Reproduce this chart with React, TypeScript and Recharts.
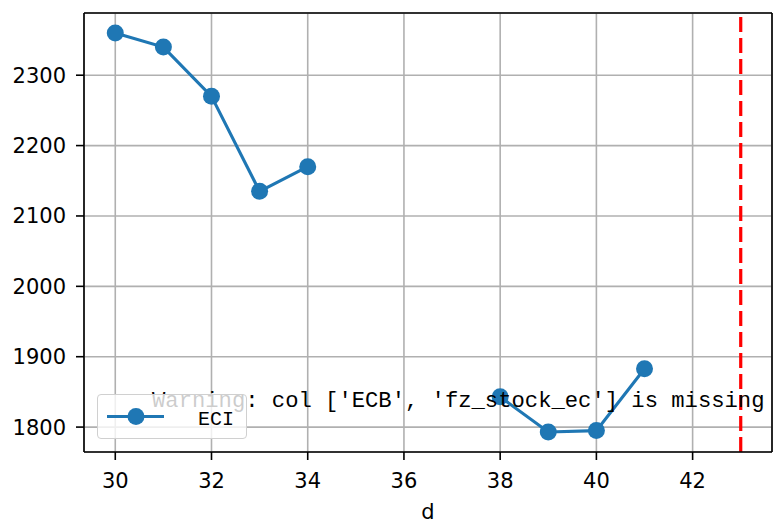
import {
  LineChart,
  Line,
  XAxis,
  YAxis,
  CartesianGrid,
  ReferenceLine,
  Legend,
} from 'recharts';

const days = [30, 31, 32, 33, 34, 35, 36, 37, 38, 39, 40, 41];
const eciValues: (number | null)[] = [2360, 2340, 2270, 2135, 2170, null, null, null, 1843, 1793, 1795, 1883];
const xTicks = [30, 32, 34, 36, 38, 40, 42];
const yTicks = [1800, 1900, 2000, 2100, 2200, 2300];
const xDomain: [number, number] = [29.35, 43.65];
const yDomain: [number, number] = [1764.6, 2388.4];
const cutoffDay = 43;
const warningText = "Warning: col ['ECB', 'fz_stock_ec'] is missing";

const data = days.map((d, i) => ({ d, ECI: eciValues[i] }));

const BLUE = '#1f77b4';
const tickStyle = { fill: '#000', fontSize: 21, fontFamily: 'DejaVu Sans' };
const monoFont = '"Liberation Mono", "DejaVu Sans Mono", monospace';

function EciLegend() {
  return (
    <div
      style={{
        width: 148,
        height: 43,
        background: 'rgba(255,255,255,0.8)',
        border: '1px solid #d0d0d0',
        borderRadius: 4,
        position: 'relative',
      }}
    >
      <svg width={148} height={43} style={{ position: 'absolute', left: 0, top: 0 }}>
        <line x1={9} y1={21.5} x2={66} y2={21.5} stroke={BLUE} strokeWidth={3.1} />
        <circle cx={38} cy={21.5} r={8.5} fill={BLUE} />
        <text x={100} y={30} fontSize={20} fontFamily={monoFont} fill="#000">
          ECI
        </text>
      </svg>
    </div>
  );
}

export default function App() {
  return (
    <div style={{ position: 'absolute', left: 0, top: 0, width: 776, height: 522, background: '#fff' }}>
      <LineChart width={776} height={522} data={data} margin={{ top: 13, right: 4, bottom: 0, left: 0 }}>
        <CartesianGrid stroke="#b0b0b0" strokeWidth={1.6} />
        <XAxis
          dataKey="d"
          type="number"
          domain={xDomain}
          allowDataOverflow
          ticks={xTicks}
          height={70}
          tick={tickStyle}
          tickSize={8}
          tickMargin={13}
          axisLine={{ stroke: '#000', strokeWidth: 1.6 }}
          tickLine={{ stroke: '#000', strokeWidth: 1.6 }}
          label={{ value: 'd', position: 'insideBottom', offset: 3, fill: '#000', fontSize: 21, fontFamily: 'DejaVu Sans' }}
        />
        <YAxis
          type="number"
          domain={yDomain}
          allowDataOverflow
          ticks={yTicks}
          width={84}
          tick={tickStyle}
          tickSize={8}
          tickMargin={10}
          axisLine={{ stroke: '#000', strokeWidth: 1.6 }}
          tickLine={{ stroke: '#000', strokeWidth: 1.6 }}
        />
        <ReferenceLine y={yDomain[1]} stroke="#000" strokeWidth={1.6} />
        <ReferenceLine x={xDomain[1]} stroke="#000" strokeWidth={1.6} />
        <Line
          dataKey="ECI"
          stroke={BLUE}
          strokeWidth={3.1}
          dot={{ r: 8.5, fill: BLUE, stroke: BLUE, strokeWidth: 0 }}
          activeDot={false}
          connectNulls={false}
          isAnimationActive={false}
        />
        <ReferenceLine x={cutoffDay} stroke="#ff0000" strokeWidth={3.2} strokeDasharray="15 6" />
        <Legend
          layout="horizontal"
          verticalAlign="middle"
          align="center"
          content={() => <EciLegend />}
          wrapperStyle={{ position: 'absolute', left: 97, top: 394, width: 150, height: 45, zIndex: 2 }}
        />
      </LineChart>
      {/* warning annotation: above the line, below the legend */}
      <svg
        width={776}
        height={522}
        style={{ position: 'absolute', left: 0, top: 0, zIndex: 1, pointerEvents: 'none' }}
      >
        <text x={152} y={407} fontSize={22.2} fontFamily={monoFont} fill="#000">
          {warningText}
        </text>
      </svg>
    </div>
  );
}
